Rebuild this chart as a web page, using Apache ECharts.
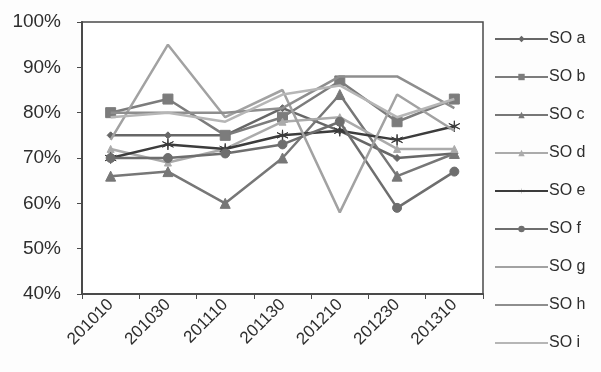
<!DOCTYPE html>
<html>
<head>
<meta charset="utf-8">
<script src="https://cdn.jsdelivr.net/npm/echarts@6/dist/echarts.min.js"></script>
<style>
  html, body { margin: 0; padding: 0; background: #fdfdfd; }
  #chart { width: 601px; height: 372px; }
</style>
</head>
<body>
<div id="chart"></div>
<script>
// Periods on the category axis
const periods = ['201010', '201030', '201110', '201130', '201210', '201230', '201310'];

// Share per SO and period, in percent
const soA = [75, 75, 75, 81, 76, 70, 71];
const soB = [80, 83, 75, 79, 87, 78, 83];
const soC = [66, 67, 60, 70, 84, 66, 71];
const soD = [72, 69, 72, 78, 79, 72, 72];
const soE = [70, 73, 72, 75, 76, 74, 77];
const soF = [70, 70, 71, 73, 78, 59, 67];
const soG = [74, 95, 79, 85, 58, 84, 76];
const soH = [80, 80, 80, 81, 88, 88, 81];
const soI = [79, 80, 78, 84, 86, 79, 83];

const seriesNames = ['SO a', 'SO b', 'SO c', 'SO d', 'SO e', 'SO f', 'SO g', 'SO h', 'SO i'];
const seriesData = [soA, soB, soC, soD, soE, soF, soG, soH, soI];

// y axis range and step, in percent
const yMin = 40, yMax = 100, yStep = 10;

// six-spoke asterisk marker
function asteriskPath() {
  const pts = [];
  const n = 6, ro = 10, ri = 1.2;
  for (let k = 0; k < n * 2; k++) {
    const r = k % 2 === 0 ? ro : ri;
    const a = Math.PI / 2 + k * Math.PI / n;
    pts.push((r * Math.cos(a)).toFixed(2) + ' ' + (-r * Math.sin(a)).toFixed(2));
  }
  return 'path://M' + pts.join(' L') + ' Z';
}

const styles = [
  { color: '#676767', symbol: 'diamond', size: 7 },
  { color: '#7c7c7c', symbol: 'rect', size: 10 },
  { color: '#777777', symbol: 'triangle', size: 10 },
  { color: '#ababab', symbol: 'triangle', size: 7 },
  { color: '#3c3c3c', symbol: asteriskPath(), size: 11 },
  { color: '#6e6e6e', symbol: 'circle', size: 9 },
  { color: '#a2a2a2', symbol: 'none', size: 0 },
  { color: '#8e8e8e', symbol: 'none', size: 0 },
  { color: '#b6b6b6', symbol: 'none', size: 0 }
];

const font = '"Liberation Sans", Arial, sans-serif';

const chart = echarts.init(document.getElementById('chart'), null, { renderer: 'canvas' });

chart.setOption({
  backgroundColor: '#fdfdfd',
  animation: false,
  grid: {
    left: 82, right: 118, top: 22, bottom: 78,
    show: true,
    borderColor: '#4a4a4a',
    borderWidth: 1.5,
    backgroundColor: '#ffffff'
  },
  legend: {
    orient: 'vertical',
    left: 489,
    top: 26,
    itemWidth: 53,
    itemHeight: 8,
    itemGap: 22,
    textStyle: { fontFamily: font, fontSize: 16, color: '#2e2e2e', padding: [0, 0, 0, -4] },
    data: seriesNames.map((name, i) => (
      styles[i].symbol === 'none'
        ? { name: name, itemStyle: { opacity: 0 } }
        : { name: name, itemStyle: { opacity: 1 } }
    ))
  },
  xAxis: {
    type: 'category',
    data: periods,
    boundaryGap: true,
    axisLine: { lineStyle: { color: '#4a4a4a', width: 2 } },
    axisTick: { show: true, length: 5, lineStyle: { color: '#4a4a4a', width: 1 } },
    axisLabel: {
      rotate: 45,
      margin: 8,
      fontFamily: font,
      fontSize: 17,
      color: '#2e2e2e'
    },
    splitLine: { show: false }
  },
  yAxis: {
    type: 'value',
    min: yMin,
    max: yMax,
    interval: yStep,
    axisLine: { show: true, lineStyle: { color: '#4a4a4a', width: 2 } },
    axisTick: { show: true, length: 5, lineStyle: { color: '#4a4a4a', width: 1 } },
    axisLabel: {
      formatter: '{value}%',
      margin: 21,
      fontFamily: font,
      fontSize: 19,
      color: '#2e2e2e'
    },
    splitLine: { show: false }
  },
  series: seriesNames.map((name, i) => ({
    name: name,
    type: 'line',
    data: seriesData[i],
    symbol: styles[i].symbol,
    symbolSize: styles[i].size,
    showSymbol: styles[i].symbol !== 'none',
    lineStyle: { color: styles[i].color, width: 2.5 },
    itemStyle: { color: styles[i].color, borderColor: styles[i].color },
    z: 2 + i
  }))
});
</script>
</body>
</html>
